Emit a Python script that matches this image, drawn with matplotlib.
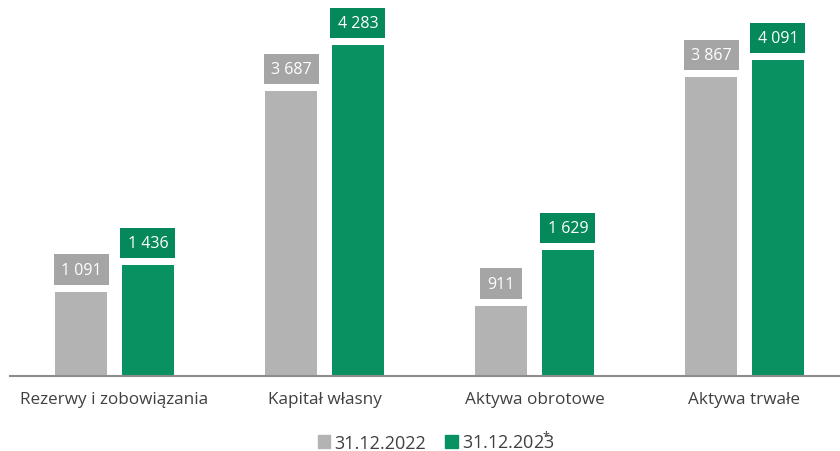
import matplotlib
matplotlib.use("Agg")
import matplotlib.pyplot as plt
from matplotlib.patches import Patch
import numpy as np

plt.rcParams['font.family'] = ['Open Sans', 'DejaVu Sans']
plt.rcParams['mathtext.fontset'] = 'custom'
plt.rcParams['mathtext.rm'] = 'Open Sans'
plt.rcParams['mathtext.it'] = 'Open Sans'

categories = ["Rezerwy i zobowiązania", "Kapitał własny", "Aktywa obrotowe", "Aktywa trwałe"]
values_2022 = [1091, 3687, 911, 3867]
values_2023 = [1436, 4283, 1629, 4091]
series_labels = ["31.12.2022", "31.12.2023"]

GRAY_BAR = "#b3b3b3"
GRAY_BOX = "#a5a5a5"
GREEN_BAR = "#0a9162"
GREEN_BOX = "#05895a"
TEXT = "#404040"

W, H = 840, 452
fig = plt.figure(figsize=(W / 100, H / 100), dpi=100)
ax = fig.add_axes([10 / W, 75 / H, 830 / W, 377 / H])

x = np.arange(len(categories))
width = 0.2476
off = 0.1595

b1 = ax.bar(x - off, values_2022, width, color=GRAY_BAR, zorder=2)
b2 = ax.bar(x + off, values_2023, width, color=GREEN_BAR, zorder=2)

ax.set_xlim(-0.4976, -0.4976 + 830 / 210)
ax.set_ylim(0, 4878)

def fmt(v):
    return f"{v:,}".replace(",", " ")

for bars, vals, box in ((b1, values_2022, GRAY_BOX), (b2, values_2023, GREEN_BOX)):
    for rect, v in zip(bars, vals):
        ax.annotate(fmt(v), (rect.get_x() + rect.get_width() / 2, v),
                    xytext=(0, 22), textcoords="offset pixels",
                    ha="center", va="center", color="white", fontsize=11.5,
                    bbox=dict(boxstyle="square,pad=0.45", fc=box, ec="none"))

for s in ("top", "right", "left"):
    ax.spines[s].set_visible(False)
ax.spines["bottom"].set_color("#8c8c8c")
ax.spines["bottom"].set_linewidth(1.5)
ax.set_yticks([])
ax.set_xticks(x)
ax.set_xticklabels(categories, fontsize=12.3, color=TEXT)
ax.tick_params(axis="x", length=0, pad=11)

# the second date carries a footnote asterisk tucked over its last digit
legend_labels = [series_labels[0], series_labels[1] + r"$\!\!\!\!^{*}$"]
handles = [Patch(color=GRAY_BAR), Patch(color=GREEN_BAR)]
fig.legend(handles, legend_labels, loc="center",
           bbox_to_anchor=(436 / W, 1 - 442 / H),
           ncol=2, frameon=False, fontsize=13, handlelength=0.7, handleheight=0.7,
           handletextpad=0.2, columnspacing=1.1, labelcolor=TEXT)

fig.savefig("out.png", dpi=100)
